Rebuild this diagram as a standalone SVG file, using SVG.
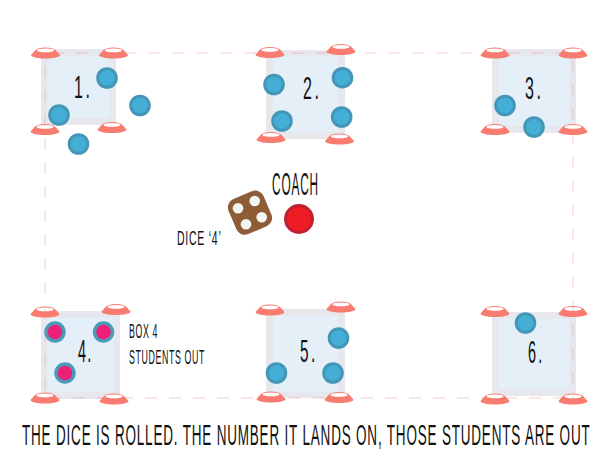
<svg xmlns="http://www.w3.org/2000/svg" width="613" height="461" viewBox="0 0 613 461">
<style>
.outer{fill:#e7e8ee}
.inner{fill:#e4eff7}
.s{fill:#45aed6;stroke:#4496b6;stroke-width:3}
.p{fill:#ee1f77;stroke:#4c9ab9;stroke-width:3.5}
.t{font-family:"Liberation Sans",sans-serif;fill:#111;text-transform:uppercase}
.n{font-size:32px}
.m{font-size:21px;letter-spacing:1.5px}
.d{fill:none;stroke:#f08080;stroke-opacity:.27;stroke-width:1.4;stroke-dasharray:12 12}
.pip{fill:#f3f8f3}
</style>
<defs>
<g id="cone">
<path d="M-10,-3 L-14.500,2 C-14.500,4 -8,5.500 0,5.500 C8,5.500 14.500,4 14.500,2 L10,-3 Z" fill="#f97c70"/>
<ellipse cx="0" cy="-2.500" rx="10" ry="2.900" fill="#f97c70"/>
<ellipse cx="0" cy="-2.600" rx="8.500" ry="1.900" fill="#fff"/>
</g>
</defs>
<g id="box1">
<rect class="outer" x="41" y="49" width="75" height="76"/>
<rect class="inner" x="48" y="56" width="61" height="62"/>
<use href="#cone" x="45.500" y="53"/><use href="#cone" x="113.500" y="53"/><use href="#cone" x="45" y="129.500"/><use href="#cone" x="112" y="127.500"/>
<text class="t n" transform="translate(74 98) scale(.5 1)" letter-spacing="5">1.</text>
<circle class="s" cx="107" cy="78" r="9.300"/><circle class="s" cx="140" cy="105.500" r="9.300"/><circle class="s" cx="59" cy="115" r="9.300"/><circle class="s" cx="78.500" cy="144" r="9.300"/>
</g>
<g id="box2">
<rect class="outer" x="266" y="50" width="79" height="89"/>
<rect class="inner" x="273" y="57" width="65" height="75"/>
<use href="#cone" x="270" y="52.500"/><use href="#cone" x="341" y="49.500"/><use href="#cone" x="271" y="137.500"/><use href="#cone" x="339.500" y="139"/>
<text class="t n" transform="translate(303 99) scale(.5 1)" letter-spacing="5">2.</text>
<circle class="s" cx="274" cy="84.500" r="9.300"/><circle class="s" cx="342.500" cy="77.700" r="9.300"/><circle class="s" cx="282" cy="121" r="9.300"/><circle class="s" cx="341.700" cy="117" r="9.300"/>
</g>
<g id="box3">
<rect class="outer" x="492" y="49" width="84" height="84"/>
<rect class="inner" x="499" y="56" width="70" height="70"/>
<use href="#cone" x="495" y="53"/><use href="#cone" x="573" y="53"/><use href="#cone" x="495" y="129.500"/><use href="#cone" x="573" y="129.500"/>
<text class="t n" transform="translate(525 99) scale(.5 1)" letter-spacing="5">3.</text>
<circle class="s" cx="505" cy="105.500" r="9.300"/><circle class="s" cx="534" cy="127" r="9.300"/>
</g>
<g id="box4">
<rect class="outer" x="41" y="311" width="79" height="88"/>
<rect class="inner" x="48" y="318" width="65" height="74"/>
<use href="#cone" x="45" y="312"/><use href="#cone" x="116" y="309.500"/><use href="#cone" x="45" y="398"/><use href="#cone" x="114" y="399"/>
<text class="t n" transform="translate(78 362) scale(.45 1)" letter-spacing="3">4.</text>
<circle class="p" cx="55" cy="332" r="9"/><circle class="p" cx="103.500" cy="332" r="9"/><circle class="p" cx="65" cy="373" r="9"/>
</g>
<g id="box5">
<rect class="outer" x="266" y="309" width="79" height="89"/>
<rect class="inner" x="273" y="316" width="65" height="75"/>
<use href="#cone" x="270" y="310"/><use href="#cone" x="341" y="307"/><use href="#cone" x="271" y="397"/><use href="#cone" x="339" y="397.500"/>
<text class="t n" transform="translate(300 362) scale(.48 1)" letter-spacing="5">5.</text>
<circle class="s" cx="338.500" cy="338" r="9.300"/><circle class="s" cx="276.500" cy="373" r="9.300"/><circle class="s" cx="333" cy="373" r="9.300"/>
</g>
<g id="box6">
<rect class="outer" x="492" y="312" width="84" height="84"/>
<rect class="inner" x="499" y="319" width="70" height="70"/>
<use href="#cone" x="495" y="311.500"/><use href="#cone" x="573" y="311.500"/><use href="#cone" x="495" y="399"/><use href="#cone" x="573" y="399"/>
<text class="t n" transform="translate(528 363) scale(.45 1)" letter-spacing="5">6.</text>
<circle class="s" cx="525.500" cy="323" r="9.300"/>
</g>
<g id="connectors">
<path class="d" d="M45,53H573V398" stroke-dashoffset="17"/>
<path class="d" d="M45,53V398H573" stroke-dashoffset="11"/>
</g>
<g id="dice">
<rect x="231" y="193.700" width="38" height="38" rx="9" fill="#8e5c37" transform="rotate(-23 250 212.700)"/>
<circle class="pip" cx="238" cy="208.300" r="5.300"/><circle class="pip" cx="254.700" cy="201" r="5.300"/><circle class="pip" cx="261.700" cy="217.300" r="5.300"/><circle class="pip" cx="246" cy="224.300" r="5.300"/>
<text class="t m" transform="translate(177 245) scale(.5 1)">Dice ‘4’</text>
</g>
<g id="coach">
<circle cx="299" cy="219" r="13.500" fill="#ee1c25" stroke="#be2033" stroke-width="3"/>
<text class="t n" transform="translate(272 195) scale(.37 1)" letter-spacing="2.3">Coach</text>
</g>
<g id="box4-note">
<text class="t m" transform="translate(129 338) scale(.42 1)">Box 4</text>
<text class="t m" transform="translate(129 364) scale(.42 1)" letter-spacing="1.7">Students Out</text>
</g>
<g id="caption">
<text class="t" font-size="30" letter-spacing="1.8" transform="translate(22 445) scale(.45 1)">The Dice Is Rolled. The Number it Lands On, Those Students Are Out</text>
</g>
</svg>
